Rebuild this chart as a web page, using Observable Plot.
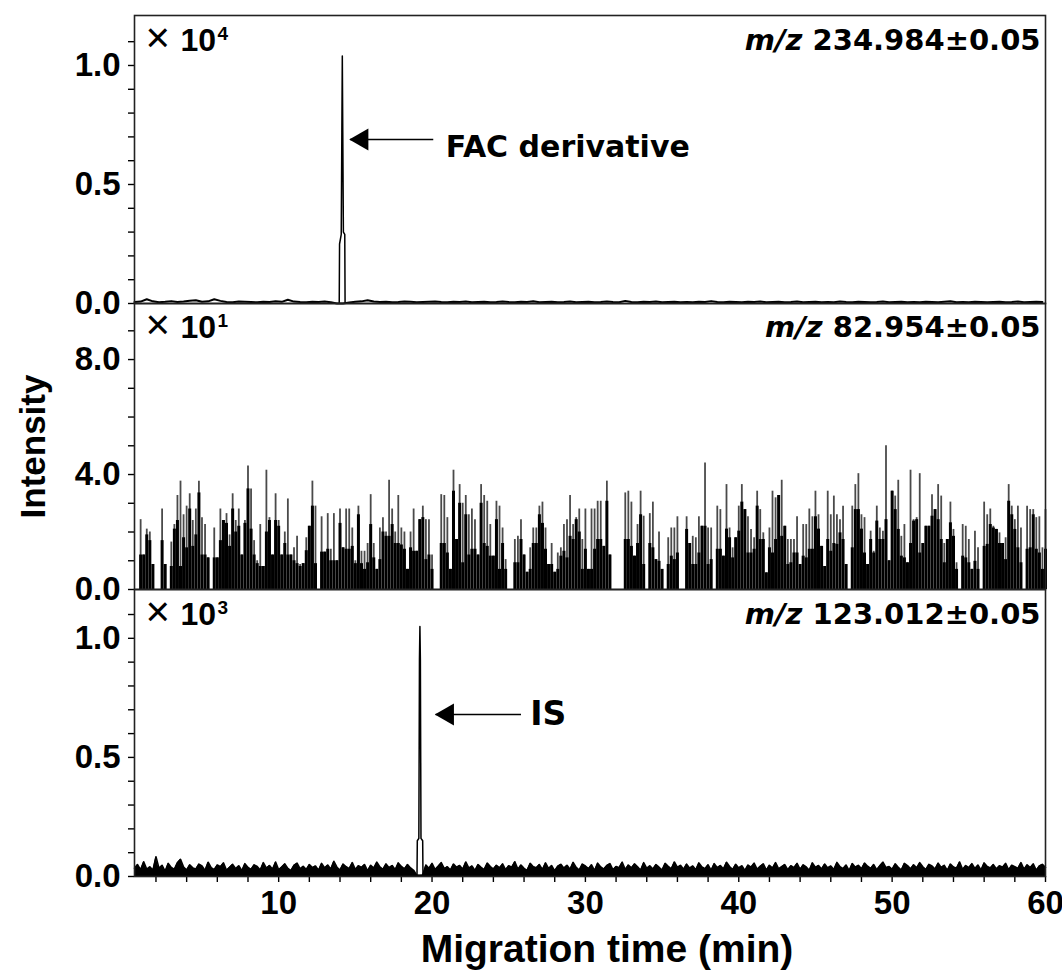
<!DOCTYPE html>
<html><head><meta charset="utf-8">
<script src="https://cdn.jsdelivr.net/npm/d3@7"></script>
<script src="https://cdn.jsdelivr.net/npm/@observablehq/plot@0.6"></script>
<style>
body{margin:0;background:#fff;}
#chart{position:relative;width:1062px;height:975px;background:#fff;}
#chart > div{position:absolute;left:0;}
#chart svg{overflow:visible;background:transparent;}
</style></head><body><div id="chart"></div>
<script>
// ---------------- data ----------------
const xStart = 0.6, xEnd = 60;
const xMajor = [10, 20, 30, 40, 50, 60];
const xMinor = [2,4,6,8,12,14,16,18,22,24,26,28,32,34,36,38,42,44,46,48,52,54,56,58];
const yMajorSmall = [0, 0.5, 1.0];
const yMinorSmall = [0.1,0.2,0.3,0.4,0.6,0.7,0.8,0.9,1.1];
const yMajorMid = [0, 4, 8];
const yMinorMid = [1,2,3,5,6,7,9];

const panelScale = ["4", "1", "3"];
const panelIon = ["m/z 234.984±0.05", "m/z 82.954±0.05", "m/z 123.012±0.05"];

// top trace (m/z 234.984), ×10^4, baseline sampled every 0.4 min from 0.6 min
const topNoiseStart = 0.6, topNoiseStep = 0.4;
const topNoise = [
0.006,0.008,0.018,0.009,0.005,0.007,0.01,0.006,0.008,0.012,
0.014,0.007,0.009,0.018,0.011,0.006,0.005,0.008,0.007,0.006,
0.005,0.007,0.006,0.009,0.007,0.016,0.008,0.006,0.005,0.007,
0.006,0.008,0.005,0.0,0.0,0.004,0.007,0.009,0.014,0.008,
0.006,0.007,0.005,0.006,0.008,0.007,0.005,0.006,0.007,0.008,
0.006,0.005,0.007,0.006,0.008,0.005,0.006,0.007,0.005,0.006,
0.008,0.006,0.005,0.007,0.006,0.009,0.005,0.006,0.007,0.005,
0.006,0.008,0.005,0.006,0.007,0.005,0.006,0.008,0.006,0.005,
0.011,0.006,0.005,0.007,0.006,0.008,0.005,0.006,0.007,0.005,
0.006,0.005,0.007,0.006,0.01,0.006,0.005,0.007,0.006,0.005,
0.007,0.006,0.008,0.005,0.006,0.007,0.005,0.006,0.008,0.005,
0.006,0.007,0.005,0.006,0.005,0.008,0.006,0.005,0.007,0.006,
0.005,0.006,0.008,0.005,0.006,0.007,0.005,0.006,0.005,0.007,
0.006,0.005,0.007,0.009,0.005,0.006,0.005,0.007,0.006,0.005,
0.006,0.007,0.005,0.006,0.008,0.005,0.006,0.007,0.006];
const topPeakT = [13.95, 13.97, 14.08, 14.12, 14.15, 14.18, 14.22, 14.31, 14.33];
const topPeakV = [0.004, 0.25, 0.29, 0.72, 1.04, 0.72, 0.3, 0.29, 0.004];

// middle trace (m/z 82.954), ×10^1, one stick every 0.2 min from 0.6 min
const midStart = 0.6, midStep = 0.2;
const midTop = [
0,0,2.43,1.2,2.1,2.0,0.87,0,0,2.8,0.87,0,1.65,2.26,3.27,3.77,2.6,2.9,3.33,2.4,
2.8,3.77,2.5,2.26,1.1,0,2.14,1.1,2.8,2.4,2.64,1.9,3.33,2.4,2.8,1.2,2.4,4.3,3.5,1.7,
1.0,2.26,0.8,4.15,2.5,1.2,3.33,2.4,1.2,2.0,3.15,1.2,1.45,1.85,0.87,0.9,1.8,2.2,3.77,2.9,
0,2.53,1.3,2.64,1.4,2.64,1.0,2.8,1.45,2.8,2.8,2.14,1.0,2.9,1.33,1.33,1.6,3.3,1.6,0.7,
2.14,2.5,2.0,3.8,2.8,2.0,3.27,2.14,2.0,0.7,2.0,2.8,1.33,2.43,2.9,2.43,2.43,1.2,0,0,
3.3,3.27,2.5,0.7,4.15,1.74,3.65,3.0,3.27,2.6,2.8,2.43,1.2,3.65,3.27,3.07,2.26,1.16,3.07,2.9,
2.14,1.04,0,0,1.74,1.85,2.43,1.2,0.6,1.45,2.14,2.14,2.9,3.04,2.14,0.87,1.6,0.6,1.27,1.45,
2.26,2.43,3.27,2.26,2.5,2.8,1.74,2.8,0.7,2.8,2.8,3.07,3.07,1.5,3.77,1.2,0,0,0,0,
3.36,3.42,3.04,1.16,2.26,3.42,2.55,0,2.64,3.04,1.04,2.0,0.7,0,1.8,2.14,2.14,2.53,0,0,
2.53,1.6,1.85,1.8,2.53,2.2,4.4,2.14,2.14,0,2.9,2.78,1.16,3.65,2.14,1.45,1.8,2.9,3.65,2.78,
2.53,2.09,1.8,3.42,2.78,1.97,0.58,2.14,3.42,3.19,3.27,3.8,2.2,1.74,1.74,1.74,2.53,0.87,2.26,2.26,
2.8,2.53,3.42,2.6,1.5,0.8,3.42,2.6,3.25,2.6,2.43,2.9,0.87,0,2.9,3.65,4.03,2.6,2.5,0.87,
2.03,1.33,2.9,2.14,2.03,5.0,1.0,3.42,3.25,3.8,1.85,2.26,0.93,4.15,2.43,2.5,4.03,1.6,2.2,2.2,
3.3,2.78,3.65,3.25,1.6,1.74,3.04,2.09,0.93,0,2.26,2.2,1.74,0.7,2.03,1.45,0,3.04,2.6,2.8,
2.2,2.09,1.97,1.6,1.8,3.65,2.9,2.43,2.9,2.14,0,2.9,2.78,2.78,2.5,2.53,1.45,2.78];
const midBody = [
0,0,1.2,1.2,1.9,1.7,0.87,0,0,1.7,0.87,0,0.8,2.1,2.4,0.8,1.8,1.45,2.8,1.5,
1.9,3.36,1.2,1.2,1.1,0,1.1,1.1,1.7,2.4,2.3,1.5,2.8,2.0,2.2,1.2,2.3,3.5,2.1,1.2,
0.9,0.8,0.8,2.0,2.4,1.2,2.4,2.2,1.2,1.6,1.2,1.2,1.0,0.9,0.8,0.9,1.35,2.2,2.9,0.9,
0,1.3,1.3,1.4,1.0,1.0,1.0,2.3,1.45,1.4,1.4,1.5,0.9,2.6,0.9,0.7,0.93,2.26,1.1,0.7,
1.04,2.0,1.85,1.85,2.26,1.6,1.6,1.55,1.4,0.7,1.45,1.33,1.33,2.43,2.5,1.04,1.2,0.7,0,0,
1.6,1.6,1.27,0.7,3.42,1.74,3.0,0.93,2.6,1.2,1.4,1.4,1.2,3.0,1.6,1.5,1.16,1.16,2.43,0.7,
1.6,0.7,0,0,0.93,0.93,1.74,1.2,0.6,0.7,1.6,1.6,2.6,2.3,1.4,0.87,0.87,0.6,0.7,1.16,
1.33,1.1,1.85,1.74,2.43,2.0,0.7,1.4,0.7,0.7,1.4,1.74,1.74,1.5,3.07,1.2,0,0,0,0,
1.74,1.74,1.5,1.16,1.6,2.6,0.87,0,1.6,1.45,1.04,0.98,0.7,0,0.87,1.16,1.04,1.27,0,0,
2.09,1.6,0.87,0.87,1.27,2.2,2.2,0.87,1.04,0,1.4,1.4,1.16,2.1,1.8,1.1,1.8,2.03,3.04,2.78,
1.27,1.27,1.4,2.9,1.74,1.74,0.58,1.45,1.27,1.74,3.27,1.85,2.2,0.87,0.93,1.27,1.27,0.87,1.16,1.1,
1.4,1.4,2.53,2.1,1.5,0.8,1.74,1.33,1.6,1.57,1.97,1.74,0.87,0,1.45,2.78,2.78,2.1,1.27,0.87,
1.74,1.27,2.38,1.74,1.74,2.43,1.0,3.42,2.78,2.09,1.16,1.1,0.93,1.6,2.38,2.43,1.27,1.6,2.2,2.2,
2.55,2.78,2.43,1.74,0.93,1.74,2.32,1.85,0.7,0,1.16,1.1,0.93,0.7,0.98,0.7,0,1.5,1.57,2.26,
2.14,2.09,1.6,1.6,1.04,3.07,2.6,2.09,1.45,0.93,0,1.4,1.45,2.6,1.4,1.27,0.7,1.4];

// bottom trace (m/z 123.012), ×10^3, baseline sampled every 0.2 min from 0.6 min
const botNoiseStart = 0.6, botNoiseStep = 0.2;
const botNoise = [
.035,.05,.028,.062,.03,.041,.026,.083,.034,.047,.022,.055,.038,.03,.058,.072,.04,.027,.049,.036,
.031,.052,.044,.025,.06,.037,.029,.048,.041,.057,.026,.039,.051,.033,.045,.024,.054,.038,.03,.049,
.042,.027,.058,.035,.046,.03,.061,.028,.04,.053,.034,.025,.047,.056,.032,.043,.029,.05,.037,.044,
.026,.055,.036,.048,.031,.064,.039,.027,.052,.041,.033,.058,.029,.045,.038,.05,.024,.047,.035,.06,
.04,.03,.053,.037,.046,.028,.057,.042,.032,.05,.036,.026,.006,.005,.006,.048,.034,.055,.029,.043,
.058,.033,.041,.027,.052,.039,.046,.03,.061,.035,.044,.025,.05,.038,.029,.056,.042,.031,.047,.036,
.053,.028,.045,.039,.062,.03,.048,.034,.026,.055,.041,.037,.05,.029,.057,.033,.046,.024,.043,.051,
.035,.047,.03,.059,.038,.027,.052,.044,.033,.049,.025,.056,.04,.031,.046,.054,.028,.042,.037,.06,
.029,.048,.036,.053,.041,.026,.058,.034,.045,.031,.05,.039,.027,.055,.043,.032,.061,.038,.047,.03,
.052,.035,.044,.028,.057,.04,.033,.049,.026,.054,.037,.046,.031,.06,.042,.029,.051,.036,.045,.025,
.048,.039,.056,.03,.043,.053,.027,.047,.035,.058,.032,.041,.05,.028,.045,.037,.055,.03,.049,.04,
.026,.057,.038,.046,.031,.052,.036,.044,.029,.059,.041,.033,.048,.025,.054,.039,.047,.032,.056,.043,
.034,.05,.028,.045,.06,.037,.042,.03,.053,.039,.027,.055,.046,.032,.049,.036,.058,.041,.029,.051,
.044,.031,.056,.038,.047,.026,.052,.04,.035,.061,.029,.046,.037,.054,.033,.048,.027,.057,.042,.036,
.05,.032,.045,.039,.055,.028,.047,.041,.034,.058,.03,.049,.037,.053,.026,.044,.051,.038];
const botPeakT = [19.02, 19.04, 19.14, 19.18, 19.21, 19.24, 19.28, 19.39, 19.41];
const botPeakV = [0.005, 0.15, 0.16, 0.91, 1.05, 0.91, 0.16, 0.15, 0.005];

// annotations: arrow tip, arrow tail, height, label
const arrowTip = [14.65, 20.23];
const arrowTail = [20.08, 25.8];
const arrowY = [0.689, 0.68];
const arrowLabel = ["FAC derivative", "IS"];
const arrowLabelX = [20.9, 26.4];
const arrowLabelY = [0.655, 0.68];

// ---------------- build ----------------
const topNoiseData = topNoise.map((v, i) => ({t: topNoiseStart + i * topNoiseStep, v}));
const topPeakData = topPeakT.map((t, i) => ({t, v: topPeakV[i]}));
const midData = midTop.map((top, i) => ({t: midStart + i * midStep, top, body: midBody[i]}));
const botNoiseData = botNoise.map((v, i) => ({t: botNoiseStart + i * botNoiseStep, v}));
const botPeakData = botPeakT.map((t, i) => ({t, v: botPeakV[i]}));
const arrows = arrowTip.map((tip, i) => ({tip, tail: arrowTail[i], y: arrowY[i], label: arrowLabel[i], lx: arrowLabelX[i], ly: arrowLabelY[i]}));

const SANS = "'Liberation Sans', Arial, sans-serif";
const WIDE = "'DejaVu Sans', sans-serif";
const W = 1062, ML = 134, MR = 17;
const fmt = d3.format(".1f");

function yAxes(majors, minors) {
  return [
    Plot.axisY(minors, {tickSize: 6, tickFormat: () => "", strokeWidth: 1.4}),
    Plot.axisY(majors, {tickSize: 6, tickPadding: 8, tickFormat: fmt, fontSize: 33, fontWeight: "bold", fontFamily: SANS, strokeWidth: 1.4, label: null})
  ];
}
function corner(sup, ion, dyTop) {
  return [
    Plot.text(["×"], {frameAnchor: "top-left", dx: 11, dy: dyTop + 10, lineAnchor: "middle", fontSize: 42, fontFamily: SANS, fill: "black"}),
    Plot.text(["10"], {frameAnchor: "top-left", dx: 46, dy: dyTop, fontSize: 32, fontWeight: "bold", fontFamily: SANS, fill: "black"}),
    Plot.text([sup], {frameAnchor: "top-left", dx: 83, dy: dyTop - 2, fontSize: 19, fontWeight: "bold", fontFamily: SANS, fill: "black"}),
    Plot.text([ion], {frameAnchor: "top-right", dx: -5, dy: dyTop + 1, fontSize: 29, fontWeight: "bold", fontFamily: WIDE, fill: "black"})
  ];
}
function arrowMarks(a, fs) {
  return [
    Plot.link([a], {x1: "tip", x2: "tail", y1: "y", y2: "y", stroke: "black", strokeWidth: 1.6}),
    Plot.dot([a], {x: "tip", y: "y", dx: 12, symbol: "triangle", rotate: -90, r: 8.2, fill: "black", stroke: null}),
    Plot.text([a], {x: "lx", y: "ly", text: "label", textAnchor: "start", fontSize: fs, fontWeight: "bold", fontFamily: WIDE, fill: "black"})
  ];
}
function mzItalic(svg) {
  svg.querySelectorAll("text").forEach(t => {
    const s = t.textContent;
    if (s.startsWith("m/z ") && t.children.length === 0) {
      t.textContent = "";
      const a = document.createElementNS("http://www.w3.org/2000/svg", "tspan");
      a.setAttribute("font-style", "italic"); a.textContent = "m/z";
      const b = document.createElementNS("http://www.w3.org/2000/svg", "tspan");
      b.textContent = s.slice(3);
      t.appendChild(a); t.appendChild(b);
    }
  });
}
const common = {width: W, marginLeft: ML, marginRight: MR, x: {domain: [xStart, xEnd], axis: null}, style: {overflow: "visible", background: "transparent", color: "black", fontFamily: SANS}};

const p1 = Plot.plot({
  ...common, height: 303, marginTop: 15, marginBottom: 0,
  y: {domain: [0, 1.21], axis: null},
  marks: [
    ...yAxes(yMajorSmall, yMinorSmall),
    Plot.lineY(topNoiseData, {x: "t", y: "v", stroke: "black", strokeWidth: 2}),
    Plot.line(topPeakData, {x: "t", y: "v", stroke: "black", strokeWidth: 1.5}),
    ...arrowMarks(arrows[0], 30),
    ...corner(panelScale[0], panelIon[0], 13),
    Plot.frame({stroke: "#222", strokeWidth: 1.6})
  ]
});
const p2 = Plot.plot({
  ...common, height: 286, marginTop: 0, marginBottom: 0,
  y: {domain: [0, 9.95], axis: null},
  marks: [
    ...yAxes(yMajorMid, yMinorMid),
    Plot.ruleX(midData, {x: "t", y1: 0, y2: "top", stroke: "#4a4a4a", strokeWidth: 1.8}),
    Plot.ruleX(midData, {x: "t", y1: 0, y2: "body", stroke: "black", strokeWidth: 3}),
    ...corner(panelScale[1], panelIon[1], 12),
    Plot.text(["Intensity"], {frameAnchor: "left", rotate: -90, dx: -101, textAnchor: "middle", lineAnchor: "middle", fontSize: 35, fontWeight: "bold", fontFamily: SANS, fill: "black"}),
    Plot.frame({stroke: "#222", strokeWidth: 1.6})
  ]
});
const p3 = Plot.plot({
  ...common, height: 386, marginTop: 0, marginBottom: 99,
  y: {domain: [0, 1.205], axis: null},
  marks: [
    ...yAxes(yMajorSmall, yMinorSmall),
    Plot.axisX(xMinor, {tickSize: 6, tickFormat: () => "", strokeWidth: 1.4, label: null}),
    Plot.axisX(xMajor, {tickSize: 6, tickPadding: 8, fontSize: 33, fontWeight: "bold", fontFamily: SANS, strokeWidth: 1.4, label: null}),
    Plot.areaY(botNoiseData, {x: "t", y: "v", fill: "black"}),
    Plot.lineY(botNoiseData, {x: "t", y: "v", stroke: "black", strokeWidth: 1.6}),
    Plot.line(botPeakData, {x: "t", y: "v", stroke: "black", strokeWidth: 1.5}),
    ...arrowMarks(arrows[1], 33),
    ...corner(panelScale[2], panelIon[2], 13),
    Plot.text(["Migration time (min)"], {frameAnchor: "bottom", dx: 17, dy: 85, lineAnchor: "bottom", fontSize: 39, fontWeight: "bold", fontFamily: SANS, fill: "black"}),
    Plot.frame({stroke: "#222", strokeWidth: 1.6})
  ]
});

const chart = document.getElementById("chart");
[[p1, 0], [p2, 303], [p3, 589]].forEach(([p, top]) => {
  mzItalic(p);
  const d = document.createElement("div");
  d.style.top = top + "px";
  d.appendChild(p);
  chart.appendChild(d);
});
</script></body></html>
